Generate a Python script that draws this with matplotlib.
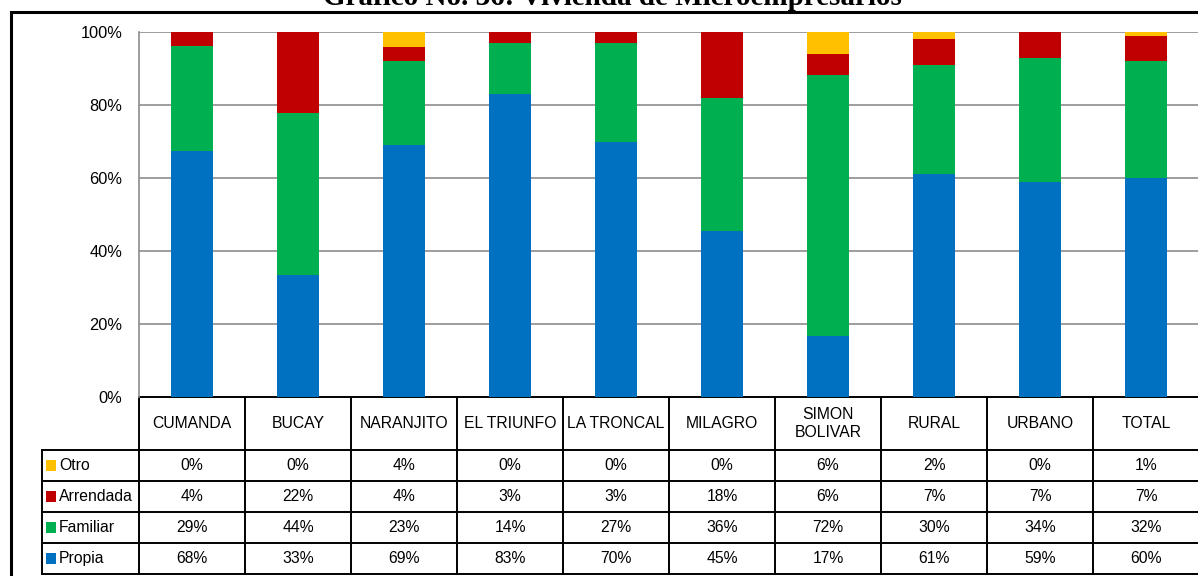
import matplotlib
matplotlib.use("Agg")
import matplotlib.pyplot as plt
import matplotlib.transforms as mtransforms
from matplotlib.patches import Rectangle
import numpy as np

sites = ["CUMANDA", "BUCAY", "NARANJITO", "EL TRIUNFO", "LA TRONCAL", "MILAGRO",
         "SIMON\nBOLIVAR", "RURAL", "URBANO", "TOTAL"]
series_names = ["Otro", "Arrendada", "Familiar", "Propia"]
otro = [0, 0, 4, 0, 0, 0, 6, 2, 0, 1]
arrendada = [4, 22, 4, 3, 3, 18, 6, 7, 7, 7]
familiar = [29, 44, 23, 14, 27, 36, 72, 30, 34, 32]
propia = [68, 33, 69, 83, 70, 45, 17, 61, 59, 60]
colors = ["#FFC000", "#C00000", "#00B050", "#0070C0"]
yticks = [0, 20, 40, 60, 80, 100]
title = "Gráfico No. 36: Vivienda de Microempresarios"

W, H = 1198, 576
fnt = ["Liberation Sans", "DejaVu Sans"]
fs = 11.3

def fy(py):
  return 1 - py / H

def fx(px):
  return px / W

fig = plt.figure(figsize=(W / 100, H / 100), dpi=100)
ax = fig.add_axes([fx(139), fy(397), fx(1199) - fx(139), fy(32) - fy(397)])

rows = [otro, arrendada, familiar, propia]
totals = np.sum(np.array(rows, dtype=float), axis=0)
x = np.arange(len(sites))
bottom = np.zeros(len(sites))
# stack from Propia upwards, normalised to 100% like excel
for vals, col in zip(rows[::-1], colors[::-1]):
  h = np.array(vals) / totals * 100
  ax.bar(x, h, width=0.4, bottom=bottom, color=col, zorder=3)
  bottom += h

ax.set_xlim(-0.5, len(sites) - 0.5)
ax.set_ylim(0, 100)
ax.set_yticks(yticks)
ax.set_yticklabels([f"{t}%" for t in yticks], fontfamily=fnt, fontsize=fs + 0.5)
ax.tick_params(axis="y", length=0, pad=12)
ax.set_xticks([])
ax.grid(axis="y", color="#8c8c8c", linewidth=1.2, zorder=0)
for s in ["top", "right", "bottom"]:
  ax.spines[s].set_visible(False)
ax.spines["left"].set_color("#8c8c8c")
ax.spines["left"].set_linewidth(1.2)

# data table under the chart
trans = mtransforms.blended_transform_factory(ax.transData, fig.transFigure)
row_edges = [397, 450, 481, 512, 543, 574]
lw = 1.4
for i in range(len(sites) + 1):
  xe = i - 0.5
  ax.plot([xe, xe], [fy(397), fy(574)], transform=trans, color="black", lw=lw, clip_on=False)
for k, ry in enumerate(row_edges):
  if k == 0:
    ax.plot([-0.5, len(sites) - 0.5], [fy(ry), fy(ry)], transform=trans, color="black", lw=lw, clip_on=False)
  else:
    fig.add_artist(plt.Line2D([fx(42), 1.0], [fy(ry), fy(ry)], color="black", lw=lw))
fig.add_artist(plt.Line2D([fx(42), fx(42)], [fy(450), fy(574)], color="black", lw=lw))

for i, name in enumerate(sites):
  ax.text(i, fy(423.5), name, transform=trans, ha="center", va="center",
          fontfamily=fnt, fontsize=fs, linespacing=1.25)
for r, (vals, nm, col) in enumerate(zip(rows, series_names, colors)):
  yc = fy((row_edges[r + 1] + row_edges[r + 2]) / 2)
  for i, v in enumerate(vals):
    ax.text(i, yc, f"{v}%", transform=trans, ha="center", va="center",
            fontfamily=fnt, fontsize=fs)
  fig.add_artist(Rectangle((fx(46), yc - 5.5 / H), 10 / W, 11 / H, transform=fig.transFigure,
                           facecolor=col, edgecolor="none"))
  fig.text(fx(59), yc, nm, ha="left", va="center", fontfamily=fnt, fontsize=fs)

# outer frame
fig.add_artist(Rectangle((fx(11), -0.05), 1.1, fy(12) + 0.05, transform=fig.transFigure,
                         facecolor="none", edgecolor="black", lw=2.2))
fig.text(fx(612), fy(5), title, ha="center", va="baseline", fontfamily="Liberation Serif",
         fontweight="bold", fontsize=21)

fig.savefig("out.png", dpi=100)
